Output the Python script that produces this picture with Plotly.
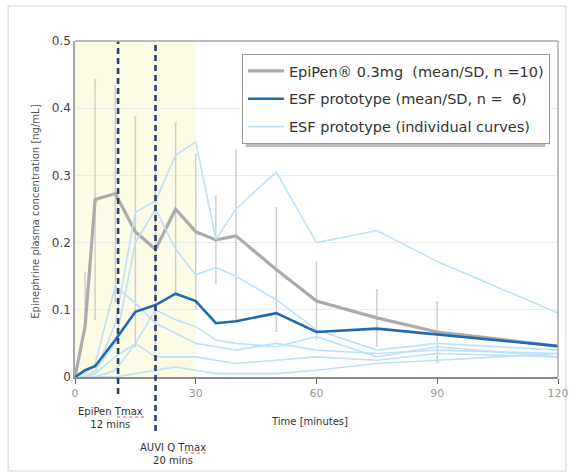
import plotly.graph_objects as go

# ---------------- data ----------------
times = [0, 2.5, 5, 10, 15, 20, 25, 30, 35, 40, 50, 60, 75, 90, 120]

epipen_mean = [0, 0.075, 0.264, 0.273, 0.216, 0.19, 0.25, 0.216, 0.204, 0.21, 0.16, 0.113, 0.088, 0.067, 0.046]
epipen_sd_up = [0, 0.08, 0.178, 0.16, 0.171, 0.14, 0.128, 0.115, 0.065, 0.127, 0.092, 0.057, 0.042, 0.045, 0]
epipen_sd_dn = [0, 0.0, 0.178, 0.16, 0.171, 0.14, 0.128, 0.115, 0.065, 0.127, 0.092, 0.057, 0.042, 0.045, 0]

esf_mean = [0, 0.01, 0.016, 0.055, 0.097, 0.107, 0.124, 0.113, 0.08, 0.083, 0.095, 0.067, 0.072, 0.063, 0.046]

esf_ind_1 = [0, 0, 0.005, 0.08, 0.245, 0.262, 0.33, 0.35, 0.205, 0.25, 0.305, 0.2, 0.218, 0.172, 0.095]
esf_ind_2 = [0, 0, 0.01, 0.05, 0.2, 0.25, 0.19, 0.152, 0.163, 0.15, 0.115, 0.07, 0.04, 0.05, 0.04]
esf_ind_3 = [0, 0.005, 0.02, 0.135, 0.11, 0.08, 0.065, 0.05, 0.045, 0.04, 0.05, 0.04, 0.035, 0.04, 0.035]
esf_ind_4 = [0, 0, 0.005, 0.03, 0.05, 0.1, 0.085, 0.075, 0.055, 0.05, 0.045, 0.06, 0.03, 0.045, 0.03]
esf_ind_5 = [0, 0, 0, 0.01, 0.05, 0.03, 0.03, 0.03, 0.025, 0.02, 0.025, 0.03, 0.025, 0.035, 0.03]
esf_ind_6 = [0, 0, 0, 0, 0.005, 0.01, 0.015, 0.01, 0.005, 0.005, 0.005, 0.01, 0.02, 0.025, 0.035]
esf_individual = [esf_ind_1, esf_ind_2, esf_ind_3, esf_ind_4, esf_ind_5, esf_ind_6]

tmax_epipen = 10.7
tmax_auvi = 20
shade_end = 30

x_ticks = [0, 30, 60, 90, 120]
y_ticks = [0, 0.1, 0.2, 0.3, 0.4, 0.5]
y_tick_text = ["0", "0.1", "0.2", "0.3", "0.4", "0.5"]

# ---------------- figure ----------------
FONT = "DejaVu Sans"
fig = go.Figure()

fig.add_trace(go.Scatter(
    x=times, y=epipen_mean, mode="lines",
    line=dict(color="#ababab", width=3.2),
    error_y=dict(type="data", symmetric=False, array=epipen_sd_up, arrayminus=epipen_sd_dn,
                 color="#cdcdcd", thickness=1.4, width=1),
    name="EpiPen\u00ae 0.3mg\u00a0\u00a0(mean/SD, n =10)",
    legendgroup="a", legendrank=1))

for i, ys in enumerate(esf_individual):
    fig.add_trace(go.Scatter(
        x=times, y=ys, mode="lines",
        line=dict(color="#bfe1f3", width=1.6),
        name="ESF prototype (individual curves)",
        showlegend=(i == 0), legendgroup="c", legendrank=3,
        hoverinfo="skip"))

fig.add_trace(go.Scatter(
    x=times, y=esf_mean, mode="lines",
    line=dict(color="#1f6aaf", width=2.6),
    name="ESF prototype (mean/SD, n =\u00a0\u00a06)",
    legendgroup="b", legendrank=2))


def px_x(p):
    return (p - 75) / 492


def px_y(p):
    return (377 - p) / 336


shapes = [
    dict(type="rect", xref="x", yref="y", x0=0, x1=shade_end, y0=0, y1=0.5,
         fillcolor="#fbfbe6", line=dict(width=0), layer="below"),
    dict(type="line", xref="x", yref="paper", x0=tmax_epipen, x1=tmax_epipen, y0=px_y(394), y1=1.0,
         line=dict(color="#2c3f6e", width=2.6, dash="6px,4px"), layer="above"),
    dict(type="line", xref="x", yref="paper", x0=tmax_auvi, x1=tmax_auvi, y0=px_y(431), y1=1.0,
         line=dict(color="#2c3f6e", width=2.6, dash="6px,4px"), layer="above"),
    # outer frame
    dict(type="rect", xref="paper", yref="paper", x0=px_x(7), x1=px_x(575), y0=px_y(471), y1=px_y(6),
         line=dict(color="#e2e2e2", width=1.5), layer="below"),
    # legend shadow
    dict(type="rect", xref="paper", yref="paper",
         x0=px_x(249), x1=px_x(554), y0=px_y(147), y1=px_y(58),
         fillcolor="#bdbdbd", line=dict(width=0), layer="above"),
    # spell-check underlines
    dict(type="line", xref="paper", yref="paper",
         x0=px_x(118), x1=px_x(146), y0=px_y(417), y1=px_y(417),
         line=dict(color="#e05050", width=1, dash="dot")),
    dict(type="line", xref="paper", yref="paper",
         x0=px_x(187), x1=px_x(209), y0=px_y(453), y1=px_y(453),
         line=dict(color="#e05050", width=1, dash="dot")),
    # top and right frame lines
    dict(type="line", xref="paper", yref="paper", x0=0, x1=1, y0=1, y1=1,
         line=dict(color="#a8a8a8", width=1.5)),
    dict(type="line", xref="paper", yref="paper", x0=1, x1=1, y0=0, y1=1,
         line=dict(color="#a8a8a8", width=1.5)),
]

annotations = [
    dict(xref="paper", yref="paper", x=px_x(111), y=px_y(418), xanchor="center", yanchor="middle",
         text="EpiPen Tmax<br>12 mins", showarrow=False, align="center",
         font=dict(family=FONT, size=10, color="#333")),
    dict(xref="paper", yref="paper", x=px_x(175), y=px_y(454), xanchor="center", yanchor="middle",
         text="AUVI Q Tmax<br>20 mins", showarrow=False, align="center",
         font=dict(family=FONT, size=10, color="#333")),
    dict(xref="paper", yref="paper", x=px_x(314), y=px_y(421), xanchor="center", yanchor="middle",
         text="Time [minutes]", showarrow=False,
         font=dict(family=FONT, size=10, color="#333")),
    dict(xref="paper", yref="paper", x=px_x(34), y=px_y(212), xanchor="center", yanchor="middle",
         text="Epinephrine plasma concentration [ng/mL]", showarrow=False, textangle=-90,
         font=dict(family=FONT, size=10, color="#555")),
]

fig.update_layout(
    width=581, height=475,
    margin=dict(l=75, r=14, t=41, b=98),
    paper_bgcolor="white", plot_bgcolor="white",
    font=dict(family=FONT, color="#333"),
    shapes=shapes, annotations=annotations,
    legend=dict(x=px_x(245), y=px_y(54), xanchor="left", yanchor="top",
                bgcolor="white", bordercolor="#9a9a9a", borderwidth=1,
                font=dict(family=FONT, size=14.5, color="#333"),
                itemwidth=36, tracegroupgap=6, traceorder="grouped"),
    xaxis=dict(range=[0, 120], tickvals=x_ticks, showgrid=False, zeroline=False,
               showline=True, linecolor="#8a8a8a", linewidth=1.5, mirror=False,
               ticks="outside", ticklen=5, tickcolor="#666",
               tickfont=dict(family=FONT, size=11, color="#999")),
    yaxis=dict(range=[0, 0.5], tickvals=y_ticks, ticktext=y_tick_text,
               showgrid=True, gridcolor="#ececec", gridwidth=1, zeroline=False,
               showline=True, linecolor="#a8a8a8", linewidth=1.5,
               ticks="", tickfont=dict(family=FONT, size=12, color="#444")),
)

fig.write_html("out.html")
